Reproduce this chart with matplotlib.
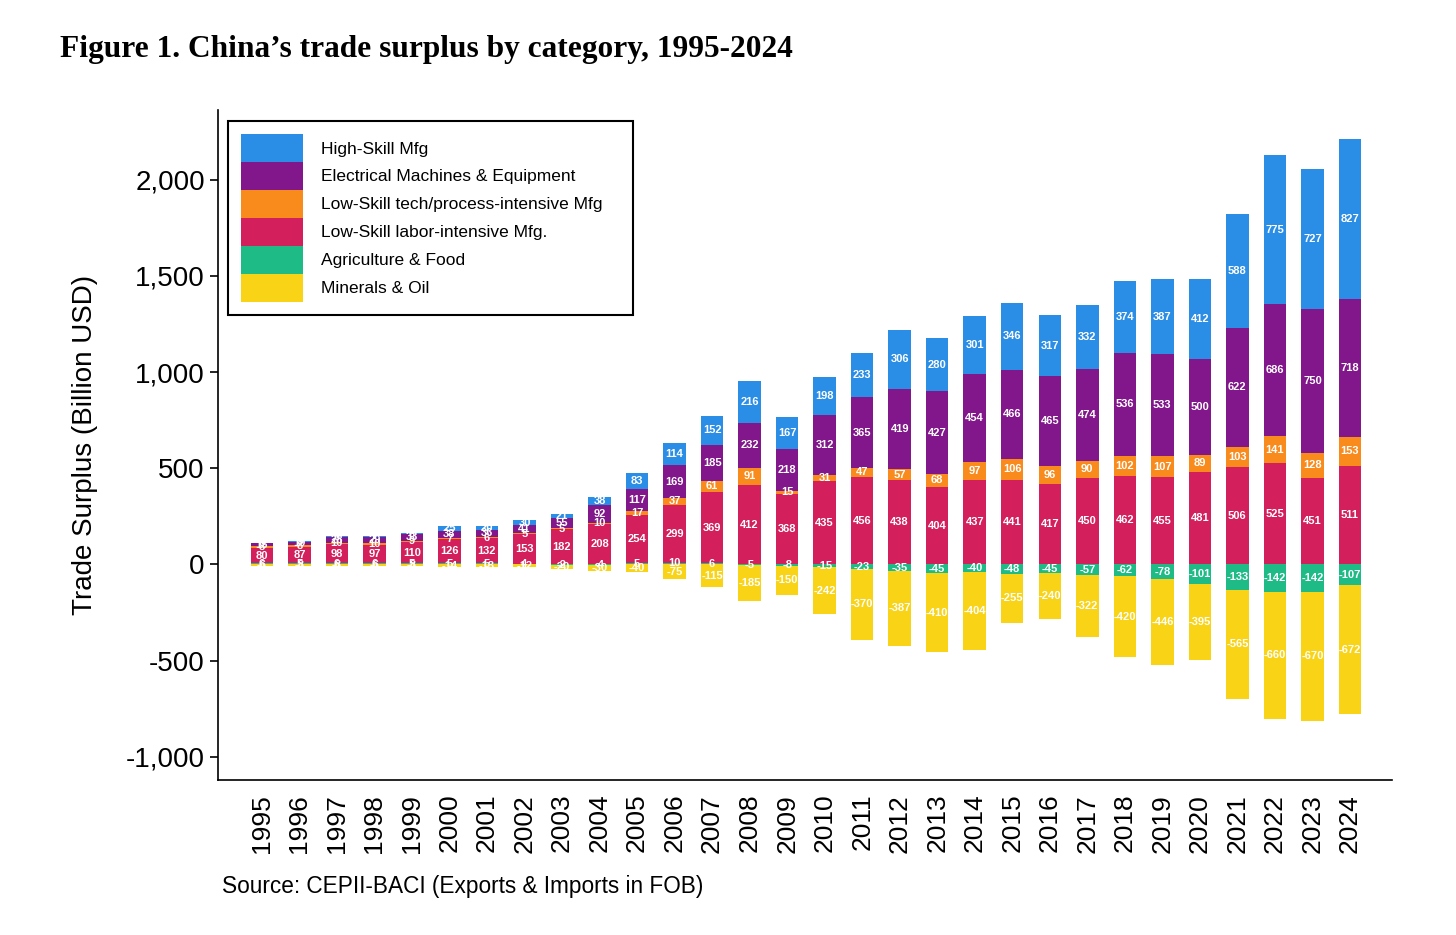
import numpy as np
import matplotlib
matplotlib.use("Agg")
import matplotlib.pyplot as plt
from matplotlib.patches import Patch
from matplotlib.ticker import FuncFormatter

years = list(range(1995, 2025))

# Billion USD
agri = [6, 5, 6, 6, 5, 5, 5, 4, -2, -4,
        5, 10, 6, -5, -8, -15, -23, -35, -45, -40,
        -48, -45, -57, -62, -78, -101, -133, -142, -142, -107]
labor = [80, 87, 98, 97, 110, 126, 132, 153, 182, 208,
         254, 299, 369, 412, 368, 435, 456, 438, 404, 437,
         441, 417, 450, 462, 455, 481, 506, 525, 451, 511]
tech = [8, 8, 10, 10, 9, 7, 6, 5, 5, 10,
        17, 37, 61, 91, 15, 31, 47, 57, 68, 97,
        106, 96, 90, 102, 107, 89, 103, 141, 128, 153]
elec = [15, 19, 28, 29, 33, 38, 36, 41, 55, 92,
        117, 169, 185, 232, 218, 312, 365, 419, 427, 454,
        466, 465, 474, 536, 533, 500, 622, 686, 750, 718]
high = [5, 5, 6, 7, 6, 25, 20, 30, 21, 38,
        83, 114, 152, 216, 167, 198, 233, 306, 280, 301,
        346, 317, 332, 374, 387, 412, 588, 775, 727, 827]
minerals = [-6, -8, -8, -6, -8, -14, -13, -12, -20, -30,
            -40, -75, -115, -185, -150, -242, -370, -387, -410, -404,
            -255, -240, -322, -420, -446, -395, -565, -660, -670, -672]

names = ["High-Skill Mfg", "Electrical Machines & Equipment",
         "Low-Skill tech/process-intensive Mfg", "Low-Skill labor-intensive Mfg.",
         "Agriculture & Food", "Minerals & Oil"]
colors = {"high": "#2b8ee6", "elec": "#81178b", "tech": "#f98b1d",
          "labor": "#d31f5b", "agri": "#1fbb86", "min": "#f8d316"}

# stacking order: positive values go up from zero, negative go down
stack = [("agri", agri), ("labor", labor), ("tech", tech),
         ("elec", elec), ("high", high), ("min", minerals)]

fig = plt.figure(figsize=(14.56, 9.35), dpi=100)
ax = fig.add_axes([0.1497, 0.1658, 0.8063, 0.7162])

x = np.array(years)
pos_base = np.zeros(len(years))
neg_base = np.zeros(len(years))
for key, vals in stack:
    v = np.array(vals, dtype=float)
    base = np.where(v >= 0, pos_base, neg_base)
    ax.bar(x, v, bottom=base, width=0.6, color=colors[key], edgecolor="none", zorder=2)
    for xi, b, vi in zip(x, base, v):
        ax.text(xi, b + vi / 2, f"{int(vi)}", ha="center", va="center",
                color="white", fontsize=8, fontweight="bold",
                family="Liberation Sans", zorder=3)
    pos_base = np.where(v >= 0, pos_base + v, pos_base)
    neg_base = np.where(v < 0, neg_base + v, neg_base)

ax.set_xlim(1995 - 1.17, 2024 + 1.12)
ax.set_ylim(-1120, 2360)
ax.set_yticks([-1000, -500, 0, 500, 1000, 1500, 2000])
ax.yaxis.set_major_formatter(FuncFormatter(lambda v, p: f"{int(v):,}"))
ax.set_xticks(years)
ax.set_xticklabels([str(y) for y in years], rotation=90)
ax.tick_params(axis="y", labelsize=20, length=6, width=1.2)
ax.tick_params(axis="x", labelsize=19, length=0, pad=10)
for lab in ax.get_xticklabels() + ax.get_yticklabels():
    lab.set_family("Liberation Sans")
ax.spines["top"].set_visible(False)
ax.spines["right"].set_visible(False)
ax.spines["left"].set_linewidth(1.2)
ax.spines["bottom"].set_linewidth(1.2)
ax.set_ylabel("Trade Surplus (Billion USD)", fontsize=20, family="Liberation Sans", labelpad=20)

handles = [Patch(facecolor=colors[k], edgecolor="none")
           for k in ["high", "elec", "tech", "labor", "agri", "min"]]
leg = ax.legend(handles, names, loc="upper left", bbox_to_anchor=(0.0085, 0.0, 0.345, 0.984),
                mode="expand",
                prop={"family": "Liberation Sans", "size": 12.5},
                handlelength=3.6, handleheight=2.1, labelspacing=0.0,
                handletextpad=1.0, borderpad=0.75, borderaxespad=0.0,
                fancybox=False, framealpha=1.0, edgecolor="black")
leg.get_frame().set_linewidth(1.5)

fig.text(60 / 1456, 1 - 50 / 935, "Figure 1. China\u2019s trade surplus by category, 1995-2024",
         fontsize=22.6, family="Liberation Serif", fontweight="bold", va="center", ha="left")
fig.text(222 / 1456, 1 - 887 / 935, "Source: CEPII-BACI (Exports & Imports in FOB)",
         fontsize=16.3, family="Liberation Sans", va="center", ha="left")

fig.savefig("out.png", dpi=100, facecolor="white")
